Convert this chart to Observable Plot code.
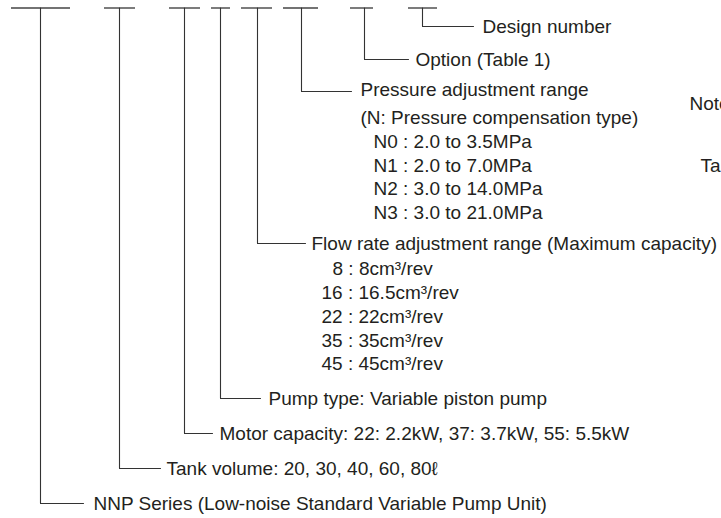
<!DOCTYPE html>
<html>
<head>
<meta charset="utf-8">
<script src="https://cdn.jsdelivr.net/npm/d3@7"></script>
<script src="https://cdn.jsdelivr.net/npm/@observablehq/plot@0.6"></script>
<style>
  html, body { margin: 0; padding: 0; background: #fff; overflow: hidden; }
  svg { overflow: hidden; }
</style>
</head>
<body>
<div id="chart"></div>
<script>
// Code segments of the model number (left to right)
const barLeft   = [11, 104, 169, 211, 241, 283, 350, 408];
const barRight  = [70, 135, 200, 230, 272, 318, 373, 437];
const stemX     = [40, 119, 184, 220, 257, 301, 364, 422];
const elbowY    = [503, 468, 433, 398, 243, 91, 59, 26];
const leaderEnd = [83, 160, 212, 260, 305, 351, 408, 473];
const labelX    = [93, 166, 219, 268, 311, 360, 415, 482];
const labelY    = [503, 468, 433, 398, 243, 89, 59, 26];
const headings  = [
  "NNP Series (Low-noise Standard Variable Pump Unit)",
  "Tank volume: 20, 30, 40, 60, 80ℓ",
  "Motor capacity: 22: 2.2kW, 37: 3.7kW, 55: 5.5kW",
  "Pump type: Variable piston pump",
  "Flow rate adjustment range (Maximum capacity)",
  "Pressure adjustment range",
  "Option (Table 1)",
  "Design number"
];

// Pressure sub-items
const pressureText = ["(N: Pressure compensation type)", "N0 : 2.0 to 3.5MPa", "N1 : 2.0 to 7.0MPa", "N2 : 3.0 to 14.0MPa", "N3 : 3.0 to 21.0MPa"];
const pressureX = [360, 373, 373, 373, 373];
const pressureY = [117, 141, 165, 188, 212];

// Flow-rate sub-items
const flowText = ["8 : 8cm³/rev", "16 : 16.5cm³/rev", "22 : 22cm³/rev", "35 : 35cm³/rev", "45 : 45cm³/rev"];
const flowX = [332, 321, 321, 321, 321];
const flowY = [268, 292, 316, 340, 363];

// Side notes (cut by the right edge, as in the reference)
const noteText = ["Note", "Table 1"];
const noteX = [689, 700];
const noteY = [103, 165];

const topY = 7.5;
const bars = barLeft.map((x1, i) => ({x1, x2: barRight[i], y: topY}));
const leaders = stemX.flatMap((sx, i) => [
  {id: i, x: sx, y: topY},
  {id: i, x: sx, y: elbowY[i]},
  {id: i, x: leaderEnd[i], y: elbowY[i]}
]);
const labels = [
  ...headings.map((t, i) => ({t, x: labelX[i], y: labelY[i]})),
  ...pressureText.map((t, i) => ({t, x: pressureX[i], y: pressureY[i]})),
  ...flowText.map((t, i) => ({t, x: flowX[i], y: flowY[i]})),
  ...noteText.map((t, i) => ({t, x: noteX[i], y: noteY[i]}))
];

const chart = Plot.plot({
  width: 721,
  height: 518,
  margin: 0,
  x: {domain: [0, 721], axis: null},
  y: {domain: [0, 518], reverse: true, axis: null},
  style: {fontFamily: "'Liberation Sans', Arial, Helvetica, sans-serif", background: "#fff"},
  marks: [
    Plot.ruleY(bars, {x1: "x1", x2: "x2", y: "y", stroke: "#444", strokeWidth: 1.4}),
    Plot.line(leaders, {x: "x", y: "y", z: "id", stroke: "#333", strokeWidth: 1.1, curve: "linear"}),
    Plot.text(labels, {x: "x", y: "y", text: "t", textAnchor: "start", lineAnchor: "middle", fontSize: 19, fill: "#231f20"})
  ]
});
document.getElementById("chart").appendChild(chart);
</script>
</body>
</html>
